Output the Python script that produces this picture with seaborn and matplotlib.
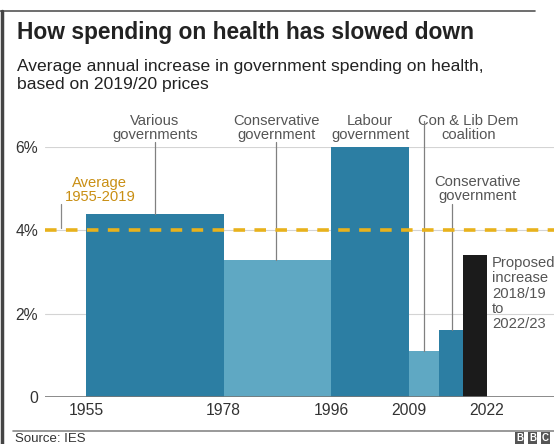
import numpy as np
import pandas as pd
import matplotlib
matplotlib.use("Agg")
import matplotlib.pyplot as plt
import seaborn as sns
from matplotlib.lines import Line2D

# ---- data ----
period_start = [1955, 1978, 1996, 2009, 2014, 2018]
period_end = [1978, 1996, 2009, 2014, 2018, 2022]
growth = [4.4, 3.3, 6.0, 1.1, 1.6, 3.4]
period_names = ["Various", "Con 1979", "Labour", "Coalition", "Con 2015", "Proposed"]
bar_colors = ["#2c7ea3", "#5fa8c3", "#2c7ea3", "#5fa8c3", "#2c7ea3", "#1b1b1b"]
average = 4.0
year_ticks = [1955, 1978, 1996, 2009, 2022]
pct_ticks = [0, 2, 4, 6]
pct_labels = ["0", "2%", "4%", "6%"]

df = pd.DataFrame({
    "period": period_names,
    "mid": [(a + b) / 2 for a, b in zip(period_start, period_end)],
    "growth": growth,
})
edges = period_start + [period_end[-1]]

sns.set_theme(style="white")
plt.rcParams["font.family"] = ["Liberation Sans", "DejaVu Sans"]

fig = plt.figure(figsize=(5.54, 4.44), dpi=100)
ax = fig.add_axes([45 / 554, 1 - 397 / 444, 509 / 554, 250 / 444])

# gridlines
for v in pct_ticks[1:]:
    ax.axhline(v, color="#d4d4d4", lw=0.8, zorder=0)

sns.histplot(data=df, x="mid", weights="growth", bins=edges, hue="period",
             palette=dict(zip(period_names, bar_colors)), multiple="layer",
             alpha=1, linewidth=0, legend=False, ax=ax, zorder=2)

ax.axhline(0, color="#777777", lw=1.2, zorder=3)
ax.axhline(average, color="#e8b21c", lw=2.6, dashes=(3.2, 2.6), zorder=4)

ax.set_xlim(1948.15, 2033.2)
ax.set_ylim(0, 6)
ax.set_xticks(year_ticks)
ax.set_xticklabels([str(y) for y in year_ticks])
ax.set_yticks(pct_ticks)
ax.set_yticklabels(pct_labels)
ax.tick_params(axis="both", length=0, labelsize=11.3, labelcolor="#333333")
ax.tick_params(axis="y", pad=5)
ax.tick_params(axis="x", pad=4)
ax.set_xlabel("")
ax.set_ylabel("")
for s in ax.spines.values():
    s.set_visible(False)

# ---- annotations ----
tc = "#555555"
lc = "#808080"
fs = 10.6
ax.text(1966.5, 6.45, "Various\ngovernments", ha="center", va="center",
        fontsize=fs, color=tc, linespacing=1.0, clip_on=False)
ax.plot([1966.5, 1966.5], [6.12, growth[0]], color=lc, lw=0.9, clip_on=False, zorder=3)

ax.text(1986.8, 6.45, "Conservative\ngovernment", ha="center", va="center",
        fontsize=fs, color=tc, linespacing=1.0, clip_on=False)
ax.plot([1986.8, 1986.8], [6.12, growth[1]], color=lc, lw=0.9, clip_on=False, zorder=3)

ax.text(2002.5, 6.45, "Labour\ngovernment", ha="center", va="center",
        fontsize=fs, color=tc, linespacing=1.0, clip_on=False)

ax.text(2018.9, 6.45, "Con & Lib Dem\ncoalition", ha="center", va="center",
        fontsize=fs, color=tc, linespacing=1.0, clip_on=False)
ax.plot([2011.5, 2011.5], [6.62, growth[3]], color=lc, lw=0.9, clip_on=False, zorder=3)

ax.text(2020.5, 5.0, "Conservative\ngovernment", ha="center", va="center",
        fontsize=fs, color=tc, linespacing=1.0, zorder=5)
ax.plot([2016.1, 2016.1], [4.63, growth[4]], color=lc, lw=0.9, zorder=3)

ax.text(2022.8, 2.48, "Proposed\nincrease\n2018/19\nto\n2022/23", ha="left", va="center",
        fontsize=fs, color=tc, linespacing=1.12, zorder=5)

ax.text(1957.3, 4.97, "Average\n1955-2019", ha="center", va="center",
        fontsize=fs, color="#c98f14", linespacing=1.0, zorder=5)
ax.plot([1950.8, 1950.8], [4.62, 4.05], color="#888888", lw=0.9, zorder=3)

# ---- titles, frame, footer ----
fig.text(17 / 554, 1 - 33 / 444, "How spending on health has slowed down",
         fontsize=16.4, fontweight="bold", color="#222222", va="center", ha="left")
fig.text(17 / 554, 1 - 76 / 444,
         "Average annual increase in government spending on health,\nbased on 2019/20 prices",
         fontsize=12.6, color="#222222", va="center", ha="left", linespacing=1.25)
fig.add_artist(Line2D([0, 535 / 554], [1 - 11 / 444] * 2, color="#555555", lw=1.2))
fig.add_artist(Line2D([1.5 / 554] * 2, [0, 1 - 11 / 444], color="#444444", lw=2.5))
fig.add_artist(Line2D([13 / 554, 1], [1 - 431 / 444] * 2, color="#888888", lw=1.2))
fig.text(15 / 554, 1 - 439 / 444, "Source: IES", fontsize=9.5, color="#333333",
         va="center", ha="left")
for i, ch in enumerate("BBC"):
    fig.text((516 + i * 13) / 554, 1 - 438 / 444, ch, fontsize=7, fontweight="bold",
             color="white", ha="left", va="center",
             bbox=dict(boxstyle="square,pad=0.15", fc="#555555", ec="none"))

fig.savefig("out.png", dpi=100)
